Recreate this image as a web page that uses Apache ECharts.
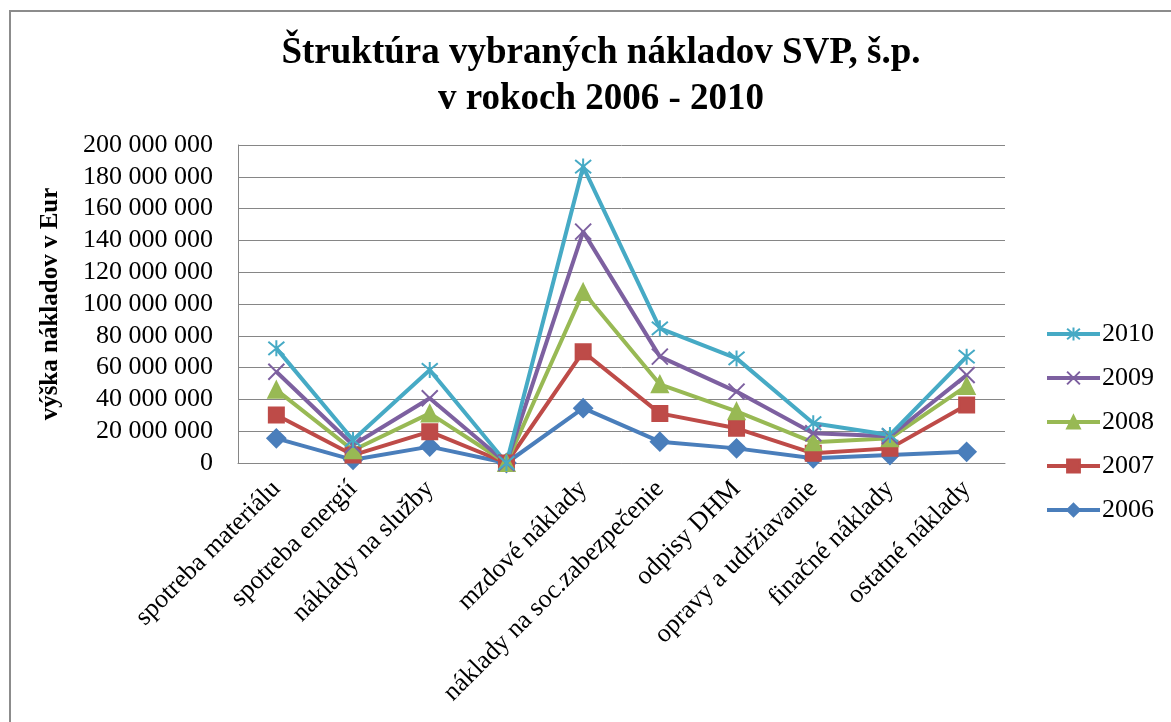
<!DOCTYPE html>
<html>
<head>
<meta charset="utf-8">
<script src="https://cdn.jsdelivr.net/npm/echarts@6/dist/echarts.min.js"></script>
<style>
  html, body { margin: 0; padding: 0; background: #fff; }
  #chart { width: 1171px; height: 722px; }
</style>
</head>
<body>
<div id="chart"></div>
<script>
// categories (4th one is empty in the source)
var categories = ['spotreba materiálu', 'spotreba energií', 'náklady na služby', '',
  'mzdové náklady', 'náklady na soc.zabezpečenie', 'odpisy DHM',
  'opravy a udržiavanie', 'finačné náklady', 'ostatné náklady'];

var years = ['2010', '2009', '2008', '2007', '2006'];

// values in EUR
var v2006 = [15500000, 2000000, 10300000, 0, 34500000, 13400000, 9200000, 3000000, 5000000, 7000000];
var v2007 = [30200000, 5000000, 19700000, 0, 70000000, 31200000, 21800000, 6100000, 9200000, 36500000];
var v2008 = [46000000, 8000000, 31200000, 0, 107500000, 49500000, 32500000, 13000000, 15500000, 48500000];
var v2009 = [57400000, 11300000, 40700000, 0, 145500000, 66900000, 44900000, 18700000, 16800000, 55300000];
var v2010 = [72100000, 14500000, 58500000, 0, 186400000, 84700000, 65800000, 25000000, 17600000, 66900000];

var yTicks = { min: 0, max: 200000000, step: 20000000 };

var serif = '"Liberation Serif", "Times New Roman", serif';

function spaced(n) {
  return String(n).replace(/\B(?=(\d{3})+(?!\d))/g, ' ');
}

function lineSeries(name, data, color, symbol, size) {
  return {
    name: name,
    type: 'line',
    data: data,
    symbol: symbol,
    symbolSize: size,
    showAllSymbol: true,
    lineStyle: { color: color, width: 4 },
    itemStyle: { color: color, borderColor: color, borderWidth: 2 },
    emphasis: { disabled: true }
  };
}

var chart = echarts.init(document.getElementById('chart'));
chart.setOption({
  animation: false,
  backgroundColor: '#fff',
  graphic: [
    { type: 'line', shape: { x1: 9, y1: 11, x2: 1171, y2: 11 }, style: { stroke: '#8c8c8c', lineWidth: 2 } },
    { type: 'line', shape: { x1: 10, y1: 10, x2: 10, y2: 722 }, style: { stroke: '#8c8c8c', lineWidth: 2 } }
  ],
  title: {
    text: 'Štruktúra vybraných nákladov SVP, š.p.\nv rokoch 2006 - 2010',
    left: 596,
    textAlign: 'center',
    top: 25,
    textStyle: { fontFamily: serif, fontWeight: 'bold', fontSize: 37, lineHeight: 46, color: '#000' }
  },
  legend: {
    data: years,
    orient: 'vertical',
    left: 1040,
    top: 316,
    itemWidth: 53,
    itemHeight: 16,
    itemGap: 18,
    lineStyle: { width: 4 },
    textStyle: { fontFamily: serif, fontSize: 26, color: '#000', padding: [0, 0, 0, -3] }
  },
  grid: { left: 238, right: 166, top: 145, bottom: 259, containLabel: false },
  xAxis: {
    type: 'category',
    data: categories,
    boundaryGap: true,
    axisLine: { lineStyle: { color: '#868686', width: 1 } },
    axisTick: { show: false },
    axisLabel: { rotate: 45, margin: 22, interval: 0, fontFamily: serif, fontSize: 26, color: '#000' }
  },
  yAxis: {
    type: 'value',
    min: yTicks.min,
    max: yTicks.max,
    interval: yTicks.step,
    name: 'výška nákladov v Eur',
    nameLocation: 'middle',
    nameGap: 175,
    nameTextStyle: { fontFamily: serif, fontWeight: 'bold', fontSize: 25, color: '#000' },
    axisLine: { show: true, lineStyle: { color: '#868686', width: 1 } },
    axisTick: { show: false },
    splitLine: { lineStyle: { color: '#868686', width: 1 } },
    axisLabel: { margin: 25, fontFamily: serif, fontSize: 26, color: '#000', formatter: spaced }
  },
  series: [
    lineSeries('2006', v2006, '#4a7ebb', 'diamond', 18),
    lineSeries('2007', v2007, '#be4b48', 'rect', 15),
    lineSeries('2008', v2008, '#98b954', 'triangle', 16),
    lineSeries('2009', v2009, '#7d60a0', 'path://M0,0 L10,10 M10,0 L0,10', 16),
    lineSeries('2010', v2010, '#46aac5', 'path://M0,0 L10,10 M10,0 L0,10 M5,-1 L5,11', 16)
  ]
});
window.addEventListener('resize', function () {
  chart.resize();
});
</script>
</body>
</html>
